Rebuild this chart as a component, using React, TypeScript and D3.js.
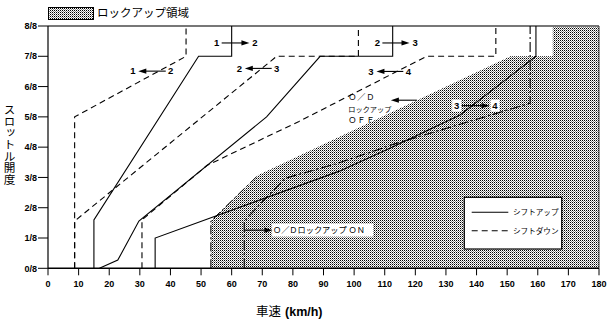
import React from "react";
import * as d3 from "d3";

type P = [number, number];

// X: vehicle speed (km/h), Y: throttle opening (eighths)
const xTickValues = [0, 10, 20, 30, 40, 50, 60, 70, 80, 90, 100, 110, 120, 130, 140, 150, 160, 170, 180];
const yTickValues = [0, 1, 2, 3, 4, 5, 6, 7, 8];
const yTickLabels = ["0/8", "1/8", "2/8", "3/8", "4/8", "5/8", "6/8", "7/8", "8/8"];

const shiftUp12: P[] = [[15, 0], [15, 1.6], [49.2, 7], [60, 7], [60, 8]];
const shiftUp23: P[] = [[16.8, 0], [22.8, 0.27], [29.7, 1.56], [71.4, 5.0], [88.9, 7], [112.6, 7], [112.6, 8]];
const shiftUp34: P[] = [[35, 0], [35, 1], [95, 3.2], [111.7, 3.96], [134.6, 5.06], [159.4, 7], [159.4, 8]];
const shiftDown21: P[] = [[8.7, 0], [8.7, 5], [45.1, 7], [45.1, 8]];
const shiftDown32: P[] = [[8.7, 0], [8.7, 1.56], [74.7, 7], [101.4, 7], [101.4, 8]];
const shiftDown43: P[] = [[30.7, 0], [30.7, 1.6], [52, 3.4], [82, 4.85], [123.7, 7], [146.3, 7], [146.3, 8]];
const lockupOn: P[] = [[64.1, 0], [64.1, 1.56], [77.4, 2.97], [94.8, 3.47], [113, 4.1], [157.5, 5.45], [157.5, 8]];
const lockupOff: P[] = [[53.2, 0], [53.2, 1.56], [68.7, 3.08], [151, 7], [164.9, 7], [164.9, 8]];
const lockupArea: P[] = [...lockupOff, [180, 8], [180, 0]];

// shift annotations: from gear, to gear, x of first digit, x of second digit, y, direction
const shiftLabelsFrom = ["1", "1", "2", "2", "3", "3"];
const shiftLabelsTo = ["2", "2", "3", "3", "4", "4"];
const shiftLabelXa = [55.1, 27.7, 62.5, 107.6, 105.5, 133.5];
const shiftLabelXb = [67.6, 40.1, 74.7, 119.9, 117.7, 146.0];
const shiftLabelY = [7.44, 6.51, 6.6, 7.44, 6.5, 5.37];
const shiftLabelDir = ["right", "left", "left", "right", "left", "right"];
const shiftLabelBg = [false, false, false, false, false, true];

const legendItems = ["シフトアップ", "シフトダウン"];
const offLabelLines = ["Ｏ／Ｄ", "ロックアップ", "ＯＦＦ"];
const onLabel = "Ｏ／Ｄロックアップ ＯＮ";
const yTitle = "スロットル開度";

const W = 610;
const H = 320;
const x = d3.scaleLinear().domain([0, 180]).range([48, 599]);
const y = d3.scaleLinear().domain([0, 8]).range([268.3, 26]);
const line = d3.line<P>().x((d) => x(d[0])).y((d) => y(d[1]));

const NUM = "'Liberation Sans', Arial, Helvetica, sans-serif";
const JP = "'Noto Sans CJK JP', 'Noto Sans', sans-serif";

function Arrow({ x1, x2, yy }: { x1: number; x2: number; yy: number }) {
  const dir = Math.sign(x2 - x1);
  const hl = 8;
  const hw = 2.6;
  return (
    <g>
      <line x1={x1} x2={x2 - dir * hl * 0.8} y1={yy} y2={yy} stroke="#000" strokeWidth={1.1} />
      <path d={`M${x2},${yy} L${x2 - dir * hl},${yy - hw} L${x2 - dir * hl},${yy + hw} Z`} fill="#000" />
    </g>
  );
}

export default function App() {
  return (
    <svg width={W} height={H} style={{ position: "absolute", left: 0, top: 0, background: "#fff" }}>
      <defs>
        <pattern id="dots" x={0} y={0} width={2} height={2} patternUnits="userSpaceOnUse">
          <rect x={0} y={0} width={2} height={2} fill="#fff" shapeRendering="crispEdges" />
          <rect x={0} y={0} width={1} height={1} fill="#000" shapeRendering="crispEdges" />
          <rect x={1} y={1} width={1} height={1} fill="#8a8a8a" shapeRendering="crispEdges" />
        </pattern>
      </defs>
      <rect x={0} y={0} width={W} height={H} fill="#fff" />

      {/* top legend */}
      <rect x={48} y={7} width={45} height={12} fill="url(#dots)" stroke="#000" strokeWidth={1} shapeRendering="crispEdges" />
      <text x={97} y={17.3} fontFamily={JP} fontSize={11.5} fill="#000">
        ロックアップ領域
      </text>

      {/* lockup area */}
      <path d={line(lockupArea) + "Z"} fill="url(#dots)" stroke="none" />
      <path d={line(lockupOff.slice(0, 3)) || ""} fill="none" stroke="#000" strokeWidth={1} strokeDasharray="9,3,2,3" />

      {/* frame */}
      <line x1={x(0)} x2={x(180)} y1={y(8)} y2={y(8)} stroke="#777" strokeWidth={2} />
      <line x1={x(0)} x2={x(0)} y1={y(8)} y2={y(0)} stroke="#000" strokeWidth={1.2} />
      <line x1={x(180)} x2={x(180)} y1={y(8)} y2={y(0)} stroke="#333" strokeWidth={1} />
      <line x1={x(0)} x2={x(180)} y1={y(0)} y2={y(0)} stroke="#000" strokeWidth={1.4} />

      {/* ticks */}
      {xTickValues.map((v) => (
        <g key={"xt" + v}>
          <line x1={x(v)} x2={x(v)} y1={y(0)} y2={y(0) + 7} stroke="#000" strokeWidth={1} />
          <text x={x(v)} y={286.5} textAnchor="middle" fontFamily={NUM} fontWeight="bold" fontSize={9} fill="#000">
            {v}
          </text>
        </g>
      ))}
      {yTickValues.map((v, i) => (
        <g key={"yt" + v}>
          <line x1={x(0) - 10} x2={x(0)} y1={y(v)} y2={y(v)} stroke="#000" strokeWidth={1} />
          <text x={37} y={y(v) + 3.2} textAnchor="end" fontFamily={NUM} fontWeight="bold" fontSize={9} fill="#000">
            {yTickLabels[i]}
          </text>
        </g>
      ))}

      {/* axis titles */}
      <text
        x={9.5}
        y={104}
        fontFamily={JP}
        fontSize={11.6}
        fill="#000"
        style={{ writingMode: "vertical-rl", textOrientation: "upright" } as React.CSSProperties}
      >
        {yTitle}
      </text>
      <text x={256} y={316} fontFamily={JP} fontSize={12.5} fill="#000">
        車速
        <tspan fontFamily={NUM} fontWeight="bold" dx={4}>
          (km/h)
        </tspan>
      </text>

      {/* shift lines */}
      {[shiftUp12, shiftUp23, shiftUp34].map((d, i) => (
        <path key={"su" + i} d={line(d) || ""} fill="none" stroke="#000" strokeWidth={1.1} />
      ))}
      {[shiftDown21, shiftDown32, shiftDown43].map((d, i) => (
        <path key={"sd" + i} d={line(d) || ""} fill="none" stroke="#000" strokeWidth={1.1} strokeDasharray="6,4" />
      ))}
      <path d={line(lockupOn) || ""} fill="none" stroke="#000" strokeWidth={1.1} strokeDasharray="10,3,2,3" />

      {/* shift annotations */}
      {shiftLabelsFrom.map((a, i) => {
        const xa = x(shiftLabelXa[i]);
        const xb = x(shiftLabelXb[i]);
        const yy = y(shiftLabelY[i]);
        const right = shiftLabelDir[i] === "right";
        return (
          <g key={"sl" + i}>
            {shiftLabelBg[i] && (
              <>
                <rect x={xa - 4.5} y={yy - 6} width={9} height={12} fill="#fff" />
                <rect x={xb - 4.5} y={yy - 6} width={9} height={12} fill="#fff" />
              </>
            )}
            {right ? <Arrow x1={xa + 5} x2={xb - 5.5} yy={yy} /> : <Arrow x1={xb - 5} x2={xa + 5.5} yy={yy} />}
            <text x={xa} y={yy + 3.3} textAnchor="middle" fontFamily={NUM} fontWeight="bold" fontSize={9.5} fill="#000">
              {a}
            </text>
            <text x={xb} y={yy + 3.3} textAnchor="middle" fontFamily={NUM} fontWeight="bold" fontSize={9.5} fill="#000">
              {shiftLabelsTo[i]}
            </text>
          </g>
        );
      })}

      {/* lockup OFF annotation */}
      {offLabelLines.map((t, i) => (
        <text key={"off" + i} x={x(98.1)} y={y(5.66) + i * 11.3 + 3.5} fontFamily={JP} fontSize={i === 1 ? 7.2 : 8.2} fill="#000" letterSpacing={i === 1 ? 0 : 0.8}>
          {t}
        </text>
      ))}
      <Arrow x1={x(120.5)} x2={x(112)} yy={y(5.55)} />

      {/* lockup ON annotation */}
      <rect x={x(73.2)} y={y(1.26) - 6.5} width={101} height={13} fill="#fff" />
      <Arrow x1={x(64.1)} x2={x(73.3)} yy={y(1.26)} />
      <text x={x(73.5)} y={y(1.26) + 3.2} fontFamily={JP} fontSize={8.2} fill="#000">
        {onLabel}
      </text>

      {/* bottom legend */}
      <rect x={464.3} y={197.3} width={97.4} height={51.7} fill="#fff" stroke="#000" strokeWidth={1.2} />
      {legendItems.map((t, i) => (
        <g key={"lg" + i}>
          <line
            x1={471.7}
            x2={508.3}
            y1={212.3 + i * 18.4}
            y2={212.3 + i * 18.4}
            stroke="#000"
            strokeWidth={1.1}
            strokeDasharray={i === 1 ? "6,4" : undefined}
          />
          <text x={513} y={212.3 + i * 18.4 + 3} fontFamily={JP} fontSize={7.6} fill="#000">
            {t}
          </text>
        </g>
      ))}
    </svg>
  );
}
